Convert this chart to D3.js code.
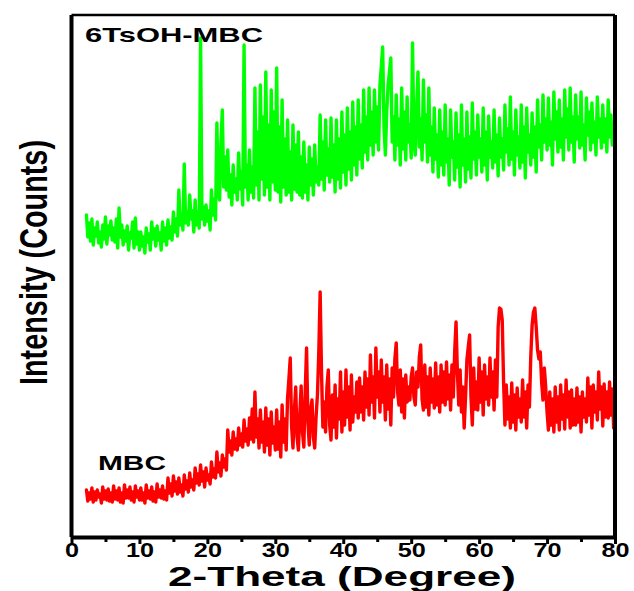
<!DOCTYPE html>
<html>
<head>
<meta charset="utf-8">
<script src="https://cdn.jsdelivr.net/npm/d3@7"></script>
<style>
  body { margin: 0; background: #fff; }
  svg { display: block; }
  text { font-family: "Liberation Sans", Arial, sans-serif; font-weight: bold; fill: #000; }
</style>
</head>
<body>
<svg id="chart" width="634" height="591"></svg>
<script>
// Scan grid: 2-theta from 2.2° in 0.2° steps
const thetaStart = 2.2;
const thetaStep = 0.2;

// 6TsOH-MBC pattern (counts, offset trace)
const tsohCounts = [
  322,300,314,296,318,292,309,301,315,294,305,290,312,298,320,293,311,302,316,297,
  309,295,318,289,329,300,312,292,306,296,311,287,304,299,315,289,319,293,305,287,
  305,291,300,284,309,295,303,287,315,298,308,291,311,297,304,287,315,296,309,292,
  317,299,310,297,325,305,318,301,347,312,322,307,373,314,325,312,342,318,326,305,
  337,312,325,309,499,318,330,312,332,316,326,307,347,322,338,317,414,345,337,395,
  427,350,380,347,387,340,362,332,372,345,358,337,384,348,365,332,492,350,372,337,
  387,345,370,339,449,352,405,337,452,358,420,342,465,350,412,337,447,355,425,347,
  469,345,410,335,437,350,398,342,417,345,385,337,412,348,392,345,405,342,380,339,
  395,345,372,337,390,352,378,342,392,355,370,352,422,358,395,347,417,362,388,355,
  419,360,392,345,417,358,398,349,425,365,402,352,429,368,405,357,435,372,410,362,
  437,378,412,369,447,385,420,377,449,392,425,382,447,395,430,387,452,470,490,410,
  382,425,452,465,479,395,420,377,442,392,418,372,449,388,425,377,440,395,412,379,
  494,395,382,430,465,390,418,377,457,395,422,375,449,382,410,365,429,378,402,360,
  427,372,405,362,432,375,398,352,427,380,395,357,424,370,402,350,432,372,398,355,
  425,368,400,359,434,378,405,362,422,380,398,365,429,372,405,357,421,380,395,369,
  427,375,402,361,419,380,398,367,432,385,408,372,440,378,405,362,427,382,400,369,
  432,375,410,359,429,385,402,372,424,380,410,365,437,390,412,377,442,395,418,387,
  439,392,415,372,445,398,425,385,437,390,418,377,447,400,428,387,449,395,420,375,
  442,398,420,389,445,392,412,377,439,402,425,387,434,395,415,382,440,400,418,389,
  432,395,418,385,437,400,422,392,397
];

// MBC pattern (counts)
const mbcCounts = [
  47,36,44,38,49,35,45,37,47,40,43,34,50,38,46,37,48,36,44,35,
  51,38,46,37,49,35,44,34,52,39,47,39,50,37,45,35,51,40,46,37,
  49,37,44,34,52,39,46,38,50,36,45,35,53,40,47,39,51,38,46,37,
  59,44,53,41,61,46,55,43,59,45,52,41,62,48,56,45,64,50,57,47,
  69,54,63,52,72,56,65,50,69,57,62,53,75,60,68,59,85,65,74,61,
  82,70,78,67,107,85,96,82,105,88,98,87,109,92,103,90,117,96,108,92,
  119,98,128,95,145,100,118,89,127,95,115,85,129,92,118,82,125,94,110,87,
  127,88,115,80,132,95,118,87,139,158,179,110,89,125,150,100,87,122,151,105,
  90,145,189,115,92,128,137,100,89,120,142,185,245,165,110,135,105,150,167,112,
  97,142,110,152,99,138,118,165,105,145,112,167,120,150,107,162,115,140,125,155,
  119,159,125,150,117,165,130,158,122,182,135,160,119,189,140,165,125,177,135,160,
  117,172,128,158,112,169,140,178,194,145,132,167,125,158,119,162,135,150,137,160,
  169,140,132,165,150,180,192,138,127,172,130,160,122,169,135,158,129,174,132,160,
  125,172,135,165,132,175,138,162,127,172,140,185,215,165,132,167,125,150,109,140,
  177,190,202,140,112,169,128,155,127,179,135,165,122,172,138,160,132,179,140,165,
  127,177,140,210,229,228,217,155,112,152,118,140,109,154,115,142,107,149,120,138,
  115,157,120,145,109,152,130,180,212,225,229,210,187,178,185,155,137,169,150,125,
  107,145,112,138,105,150,115,140,107,152,118,142,108,157,120,145,109,147,112,138,
  112,149,115,140,105,145,120,138,115,159,122,150,109,152,125,145,117,165,128,150,
  111,153,120,145,119,155,122,148,109
];

const xMajorTicks = [0, 10, 20, 30, 40, 50, 60, 70, 80];
const xMinorTicks = [5, 15, 25, 35, 45, 55, 65, 75];

const seriesNames = ["6TsOH-MBC", "MBC"];
const seriesColors = ["#00ff00", "#ff0000"];

const svg = d3.select("#chart");

const plot = { left: 71.5, right: 615, top: 15, bottom: 537 };

const x = d3.scaleLinear().domain([0, 80]).range([plot.left, plot.right]);
const y = d3.scaleLinear().domain([0, 522]).range([plot.bottom, plot.top]);

const toPoints = counts => counts.map((c, i) => [thetaStart + i * thetaStep, c]);

const line = d3.line()
  .x(d => x(d[0]))
  .y(d => y(d[1]));

const traces = [toPoints(tsohCounts), toPoints(mbcCounts)];

svg.append("g")
  .selectAll("path")
  .data(traces)
  .join("path")
  .attr("d", line)
  .attr("fill", "none")
  .attr("stroke", (d, i) => seriesColors[i])
  .attr("stroke-width", 3.4)
  .attr("stroke-linejoin", "round")
  .attr("stroke-linecap", "round");

// Frame
const frame = svg.append("g").attr("stroke", "#000").attr("fill", "none");
frame.append("line").attr("x1", plot.left).attr("x2", plot.right).attr("y1", plot.top).attr("y2", plot.top).attr("stroke-width", 2.5);
frame.append("line").attr("x1", plot.left).attr("x2", plot.left).attr("y1", plot.top).attr("y2", plot.bottom).attr("stroke-width", 4);
frame.append("line").attr("x1", plot.right).attr("x2", plot.right).attr("y1", plot.top).attr("y2", plot.bottom).attr("stroke-width", 4);

// Bottom axis: major and minor ticks
const minorAxis = svg.append("g")
  .attr("transform", `translate(0,${plot.bottom})`)
  .call(d3.axisBottom(x).tickValues(xMinorTicks).tickSize(5).tickSizeOuter(0).tickFormat(""));
minorAxis.select(".domain").remove();
minorAxis.selectAll(".tick line").attr("stroke", "#000").attr("stroke-width", 3);

const majorAxis = svg.append("g")
  .attr("transform", `translate(0,${plot.bottom})`)
  .call(d3.axisBottom(x).tickValues(xMajorTicks).tickSize(7).tickSizeOuter(0).tickPadding(0).tickFormat(d3.format("d")));
majorAxis.select(".domain").attr("stroke", "#000").attr("stroke-width", 4);
majorAxis.selectAll(".tick line").attr("stroke", "#000").attr("stroke-width", 3);
majorAxis.selectAll(".tick text")
  .attr("font-family", "Liberation Sans, Arial, sans-serif")
  .attr("font-weight", "bold")
  .attr("font-size", 21)
  .attr("dy", "0.6em")
  .attr("fill", "#000")
  .attr("transform", "scale(1.2,1)");

// Axis titles
svg.append("text")
  .attr("x", 168).attr("y", 586)
  .attr("font-size", 27.5)
  .attr("textLength", 348)
  .attr("lengthAdjust", "spacingAndGlyphs")
  .text("2-Theta (Degree)");

svg.append("text")
  .attr("transform", "translate(47,385) rotate(-90) scale(1,1.3)")
  .attr("font-size", 30)
  .attr("textLength", 245)
  .attr("lengthAdjust", "spacingAndGlyphs")
  .text("Intensity (Counts)");

// Trace labels
svg.append("text")
  .attr("x", 85).attr("y", 41.5)
  .attr("font-size", 21)
  .attr("textLength", 178)
  .attr("lengthAdjust", "spacingAndGlyphs")
  .text(seriesNames[0]);

svg.append("text")
  .attr("x", 98).attr("y", 470)
  .attr("font-size", 21)
  .attr("textLength", 68)
  .attr("lengthAdjust", "spacingAndGlyphs")
  .text(seriesNames[1]);
</script>
</body>
</html>
